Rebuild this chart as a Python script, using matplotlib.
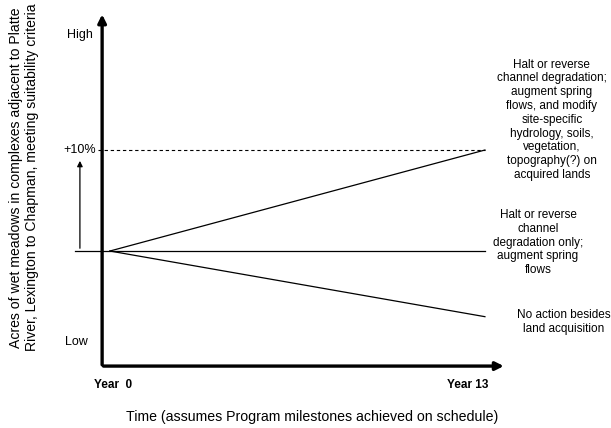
import matplotlib
matplotlib.use("Agg")
import matplotlib.pyplot as plt

plt.rcParams['font.family'] = ['Liberation Sans', 'DejaVu Sans']

# scenario end points (year, % change in acres)
years = [0, 13]
restore_all = [0, 10]
channel_only = [0, 0]
no_action = [0, -6.5]

target_pct = 10
year_labels = ["Year  0", "Year 13"]
level_labels = ["High", "+10%", "Low"]

note_all = ("Halt or reverse\nchannel degradation;\naugment spring\nflows, and modify\n"
            "site-specific\nhydrology, soils,\nvegetation,\ntopography(?) on\nacquired lands")
note_channel = "Halt or reverse\nchannel\ndegradation only;\naugment spring\nflows"
note_none = "No action besides\nland acquisition"

ylabel = ("Acres of wet meadows in complexes adjacent to Platte\n"
          "River, Lexington to Chapman, meeting suitability criteria")
xlabel = "Time (assumes Program milestones achieved on schedule)"

fig = plt.figure(figsize=(6.11, 4.28), dpi=100)
ax = fig.add_axes([0, 0, 1, 1])
ax.set_xlim(-3.81, 17.37)
ax.set_ylim(-17.52, 24.85)
ax.axis('off')

# axes with arrows
x0, y0 = -0.27, -11.39
ax.annotate('', xy=(x0, 23.7), xytext=(x0, y0 - 0.15),
            arrowprops=dict(arrowstyle='-|>', lw=2.4, color='black', mutation_scale=12))
ax.annotate('', xy=(13.75, y0), xytext=(x0 - 0.05, y0),
            arrowprops=dict(arrowstyle='-|>', lw=2.4, color='black', mutation_scale=12))

# scenario lines
ax.plot([-1.21, years[1]], channel_only, color='black', lw=0.9)
ax.plot(years, restore_all, color='black', lw=0.9)
ax.plot(years, no_action, color='black', lw=0.9)
ax.plot([-0.42, years[1]], [target_pct, target_pct], color='black', lw=0.8, ls=(0, (3, 2.5)))

# small +10% arrow
ax.annotate('', xy=(-1.04, 9.2), xytext=(-1.04, 0),
            arrowprops=dict(arrowstyle='-|>', lw=0.9, color='black', mutation_scale=8))

# level labels
ax.text(-1.05, 21.4, level_labels[0], ha='center', va='center', fontsize=9)
ax.text(-1.05, target_pct, level_labels[1], ha='center', va='center', fontsize=9)
ax.text(-1.15, -9.0, level_labels[2], ha='center', va='center', fontsize=9)

ax.text(0.1, -13.3, year_labels[0], ha='center', va='center', fontsize=8.5, fontweight='bold')
ax.text(12.4, -13.3, year_labels[1], ha='center', va='center', fontsize=8.5, fontweight='bold')

# scenario notes
ax.text(15.32, 13.0, note_all, ha='center', va='center', fontsize=8.5, linespacing=1.2)
ax.text(14.84, 0.84, note_channel, ha='center', va='center', fontsize=8.5, linespacing=1.2)
ax.text(15.74, -7.03, note_none, ha='center', va='center', fontsize=8.5, linespacing=1.2)

ax.text(-2.98, 7.3, ylabel, ha='center', va='center', rotation=90, fontsize=10.1,
        linespacing=1.22)
ax.text(7.0, -16.4, xlabel, ha='center', va='center', fontsize=10.2)

fig.savefig("out.png", dpi=100)
